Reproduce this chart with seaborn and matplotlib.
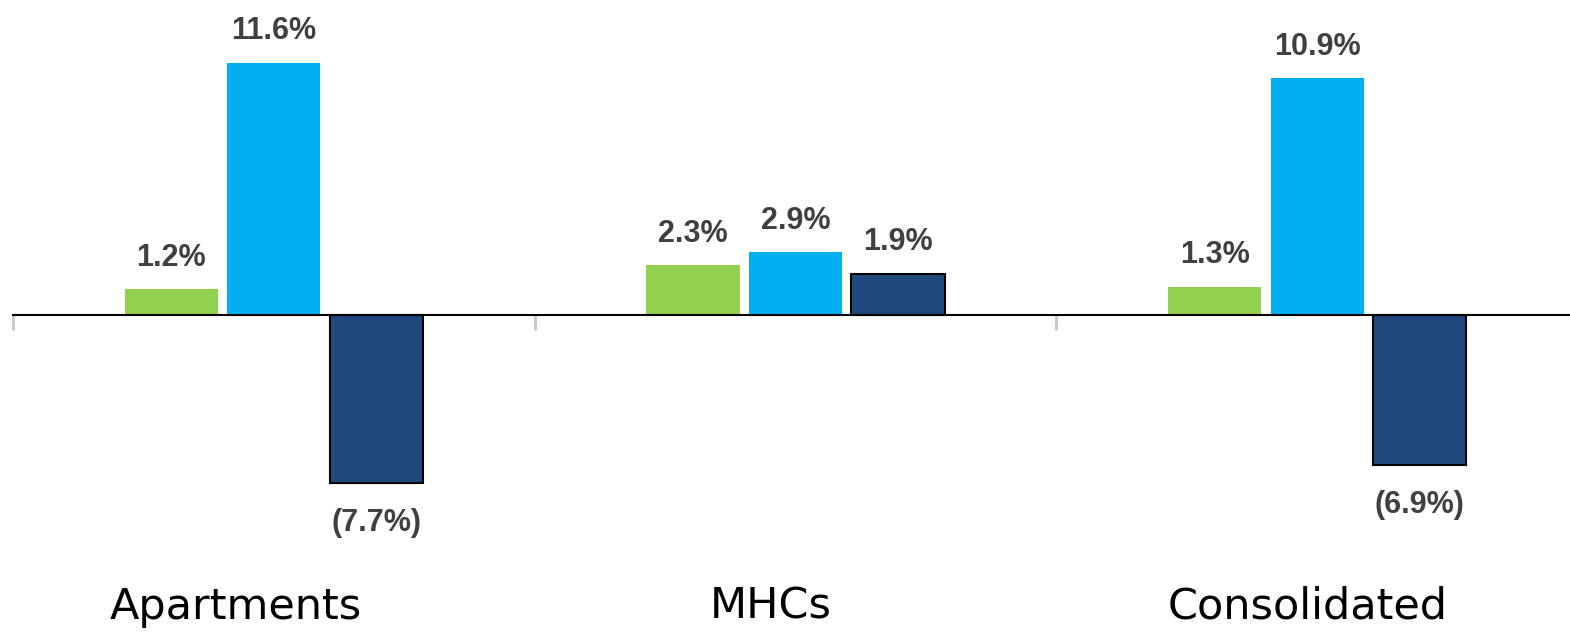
import matplotlib
matplotlib.use("Agg")
import matplotlib.pyplot as plt
import matplotlib.transforms as mtransforms
import seaborn as sns
import pandas as pd

# Growth by segment (percent)
categories = ["Apartments", "MHCs", "Consolidated"]
series = ["Revenue", "Expenses", "NOI"]
revenue = [1.2, 2.3, 1.3]
expenses = [11.6, 2.9, 10.9]
noi = [-7.7, 1.9, -6.9]

colors = ["#92D050", "#00B0F0", "#1F497D"]
text_color = "#404040"

rows = []
for name, vals in zip(series, [revenue, expenses, noi]):
    for cat, v in zip(categories, vals):
        rows.append({"Segment": cat, "Series": name, "Value": v})
df = pd.DataFrame(rows)

sns.set_style("white")
plt.rcParams["font.family"] = ["Liberation Sans", "DejaVu Sans"]

fig = plt.figure(figsize=(15.7, 6.32), dpi=100)
ax = fig.add_axes([13 / 1570, 92 / 632, 1565 / 1570, 520 / 632])

sns.barplot(data=df, x="Segment", y="Value", hue="Series", order=categories,
            hue_order=series, palette=colors, width=0.589, gap=0.09,
            legend=False, ax=ax, saturation=1)

ax.set_xlim(-0.5, 2.5)
ax.set_ylim(-10.34, 13.56)

# Bar edges and value labels
for name, cont, vals in zip(series, ax.containers, [revenue, expenses, noi]):
    for bar, v in zip(cont, vals):
        if name == "NOI":
            bar.set_edgecolor("black")
            bar.set_linewidth(1.5)
        else:
            bar.set_edgecolor("none")
            bar.set_linewidth(0)
        x = bar.get_x() + bar.get_width() / 2
        if v >= 0:
            label = f"{v:.1f}%"
            offset = 22.5
        else:
            label = f"({abs(v):.1f}%)"
            offset = -29
        ax.annotate(label, (x, v), xytext=(0, offset), textcoords="offset points",
                    ha="center", va="center", fontsize=22, fontweight="bold",
                    color=text_color)

# Zero axis with group separators
for s in ["top", "right", "left"]:
    ax.spines[s].set_visible(False)
ax.spines["bottom"].set_position(("data", 0))
ax.spines["bottom"].set_color("black")
ax.spines["bottom"].set_linewidth(1.5)
ax.spines["bottom"].set_zorder(5)
ax.set_yticks([])
ax.set_ylabel("")
ax.set_xlabel("")

ax.set_xticks([-0.5, 0.5, 1.5, 2.5], minor=True)
ax.tick_params(axis="x", which="minor", length=11, width=2, color="#C8C8C8",
               direction="out", bottom=True)
ax.tick_params(axis="x", which="major", length=0, pad=195, labelsize=31,
               labelcolor="black")

# Category labels sit a little left of their group centres
label_shift_px = [-38, -25, -10]
for lbl, dx in zip(ax.get_xticklabels(), label_shift_px):
    lbl.set_fontfamily(["DejaVu Sans"])
    lbl.set_transform(lbl.get_transform() +
                      mtransforms.ScaledTranslation(dx / 100, 0, fig.dpi_scale_trans))

fig.savefig("out.png", dpi=100, facecolor="white")
